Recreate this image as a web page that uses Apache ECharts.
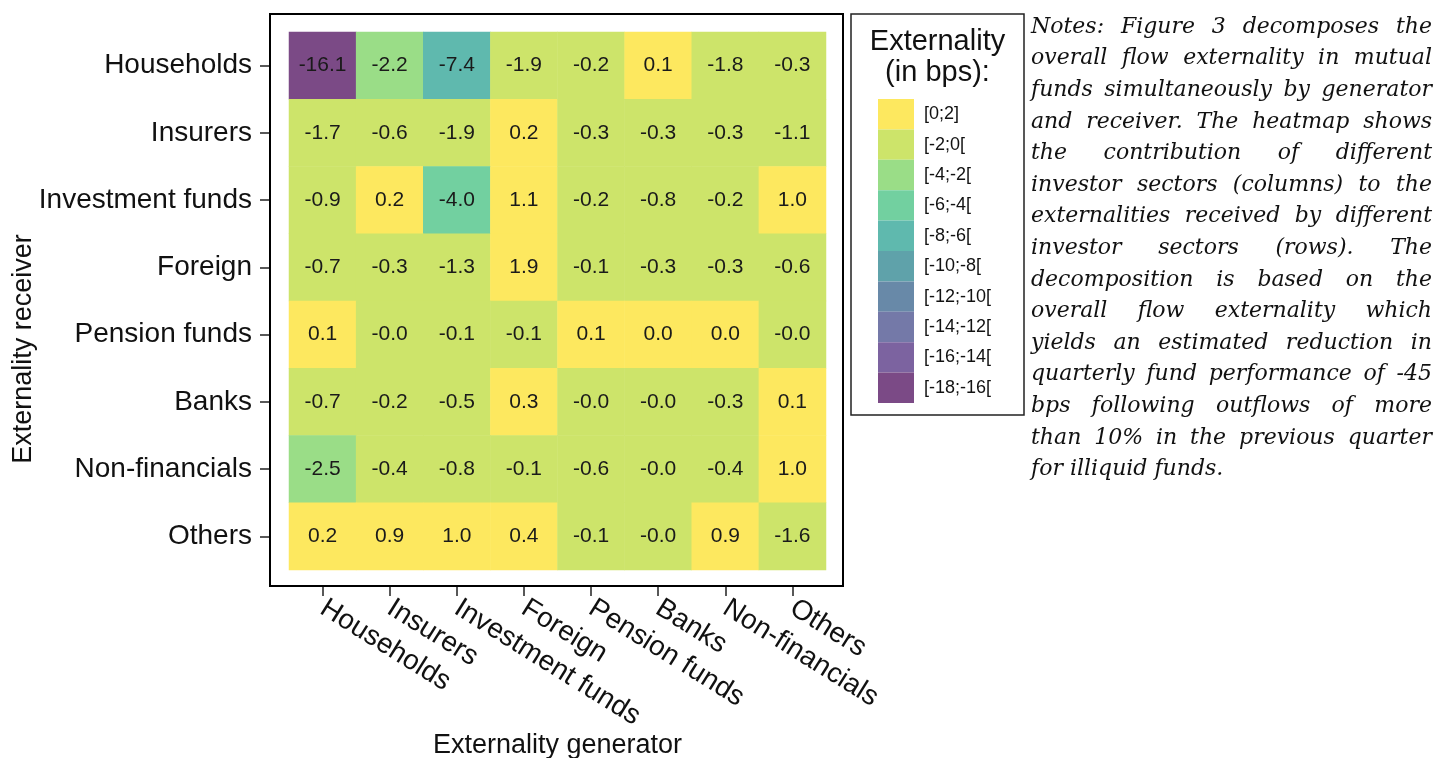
<!DOCTYPE html>
<html>
<head>
<meta charset="utf-8">
<script src="https://cdn.jsdelivr.net/npm/echarts@6/dist/echarts.min.js"></script>
<style>
  html, body { margin: 0; padding: 0; background: #fff; }
  #main { width: 1435px; height: 758px; }
</style>
</head>
<body>
<div id="main"></div>
<script>
// sectors, same order for generator (columns) and receiver (rows)
var sectors = ['Households', 'Insurers', 'Investment funds', 'Foreign', 'Pension funds', 'Banks', 'Non-financials', 'Others'];

// one array per receiver row, values by generator column (bps)
// "-0.0" / "0.0" / "-4.0" cells kept slightly off so the bin colour matches the picture
var households = [-16.1, -2.2, -7.4, -1.9, -0.2, 0.1, -1.8, -0.3];
var insurers = [-1.7, -0.6, -1.9, 0.2, -0.3, -0.3, -0.3, -1.1];
var investmentFunds = [-0.9, 0.2, -4.02, 1.1, -0.2, -0.8, -0.2, 1.0];
var foreign = [-0.7, -0.3, -1.3, 1.9, -0.1, -0.3, -0.3, -0.6];
var pensionFunds = [0.1, -0.04, -0.1, -0.1, 0.1, 0.04, 0.04, -0.04];
var banks = [-0.7, -0.2, -0.5, 0.3, -0.04, -0.04, -0.3, 0.1];
var nonFinancials = [-2.5, -0.4, -0.8, -0.1, -0.6, -0.04, -0.4, 1.0];
var others = [0.2, 0.9, 1.0, 0.4, -0.1, -0.04, 0.9, -1.6];

var rows = [households, insurers, investmentFunds, foreign, pensionFunds, banks, nonFinancials, others];

// legend bins, top to bottom
var binLabels = ['[0;2]', '[-2;0[', '[-4;-2[', '[-6;-4[', '[-8;-6[', '[-10;-8[', '[-12;-10[', '[-14;-12[', '[-16;-14[', '[-18;-16['];
var binLow = [0, -2, -4, -6, -8, -10, -12, -14, -16, -18];
var binHigh = [2, 0, -2, -4, -6, -8, -10, -12, -14, -16];
var binColors = ['#fde85f', '#cde46a', '#9add87', '#72d0a0', '#5fb9ae', '#5fa2aa', '#6889a8', '#7479a8', '#7c63a0', '#7b4a86'];

var notesLines = [
  'Notes: Figure 3 decomposes the',
  'overall flow externality in mutual',
  'funds simultaneously by generator',
  'and receiver. The heatmap shows',
  'the contribution of different',
  'investor sectors (columns) to the',
  'externalities received by different',
  'investor sectors (rows). The',
  'decomposition is based on the',
  'overall flow externality which',
  'yields an estimated reduction in',
  'quarterly fund performance of -45',
  'bps following outflows of more',
  'than 10% in the previous quarter',
  'for illiquid funds.'
];

var sansFont = '"Liberation Sans", Arial, sans-serif';
var noteFamily = '"DejaVu Serif"';
var noteSize = 22;

function buildData() {
  var out = [];
  for (var r = 0; r < rows.length; r++) {
    for (var c = 0; c < rows[r].length; c++) {
      out.push([c, r, rows[r][c]]);
    }
  }
  return out;
}

function buildPieces() {
  var out = [];
  for (var i = 0; i < binLabels.length; i++) {
    var p = { gte: binLow[i], label: binLabels[i], color: binColors[i] };
    if (i == 0) p.lte = binHigh[i]; else p.lt = binHigh[i];
    out.push(p);
  }
  return out;
}

// justified notes: every word placed so the lines fill the column
function notesGraphic() {
  var left = 1031, width = 401, top = 27, lineH = 31.6;
  var ctx = document.createElement('canvas').getContext('2d');
  ctx.font = 'italic ' + noteSize + 'px ' + noteFamily;
  var out = [];
  for (var i = 0; i < notesLines.length; i++) {
    var words = notesLines[i].split(' ');
    var y = top + i * lineH;
    var widths = [], total = 0;
    for (var j = 0; j < words.length; j++) {
      widths.push(ctx.measureText(words[j]).width);
      total += widths[j];
    }
    var gap = ctx.measureText(' ').width;
    if (i < notesLines.length - 1 && words.length > 1) {
      gap = (width - total) / (words.length - 1);
    }
    var x = left;
    for (var k = 0; k < words.length; k++) {
      out.push({
        type: 'text', x: x, y: y,
        style: {
          text: words[k], fill: '#111',
          fontStyle: 'italic', fontSize: noteSize, fontFamily: noteFamily,
          verticalAlign: 'middle'
        }
      });
      x += widths[k] + gap;
    }
  }
  return out;
}

function getOption() {
  var graphics = [
    // plot frame
    { type: 'rect', shape: { x: 270, y: 14, width: 573, height: 572 },
      style: { fill: 'none', stroke: '#000', lineWidth: 2 }, z: 10 },
    // legend frame
    { type: 'rect', shape: { x: 851, y: 14, width: 173, height: 401 },
      style: { fill: 'none', stroke: '#222', lineWidth: 1.5 }, z: 10 },
    { type: 'text', x: 937.5, y: 42,
      style: { text: 'Externality', fill: '#111', fontSize: 29, fontFamily: sansFont, align: 'center', verticalAlign: 'middle' } },
    { type: 'text', x: 937.5, y: 73,
      style: { text: '(in bps):', fill: '#111', fontSize: 29, fontFamily: sansFont, align: 'center', verticalAlign: 'middle' } },
    // y axis title
    { type: 'text', x: 24, y: 349, rotation: Math.PI / 2,
      style: { text: 'Externality receiver', fill: '#111', fontSize: 27, fontFamily: sansFont, align: 'center', verticalAlign: 'middle' } }
  ];

  var option = {
    backgroundColor: '#fff',
    animation: false,
    grid: { left: 289, top: 32, width: 537, height: 538, outerBoundsMode: 'none', containLabel: false },
    xAxis: {
      type: 'category',
      data: sectors,
      offset: 16,
      axisLine: { show: false },
      axisTick: { show: true, alignWithLabel: true, length: 10, lineStyle: { color: '#222', width: 1.5 } },
      axisLabel: { rotate: -32, fontSize: 28, color: '#111', fontFamily: sansFont, margin: 20, interval: 0 },
      splitLine: { show: false },
      name: 'Externality generator',
      nameLocation: 'middle',
      nameGap: 146,
      nameMoveOverlap: false,
      nameTextStyle: { fontSize: 27, color: '#111', fontFamily: sansFont }
    },
    yAxis: {
      type: 'category',
      data: sectors,
      inverse: true,
      offset: 19,
      axisLine: { show: false },
      axisTick: { show: true, alignWithLabel: true, length: 10, lineStyle: { color: '#222', width: 1.5 } },
      axisLabel: { fontSize: 28, color: '#111', fontFamily: sansFont, margin: 18, interval: 0 },
      splitLine: { show: false }
    },
    visualMap: {
      type: 'piecewise',
      dimension: 2,
      pieces: buildPieces(),
      orient: 'vertical',
      align: 'left',
      left: 873,
      top: 94,
      padding: 5,
      itemWidth: 36,
      itemHeight: 30.4,
      itemGap: 0,
      itemSymbol: 'rect',
      textGap: 10,
      hoverLink: false,
      selectedMode: false,
      textStyle: { fontSize: 18, color: '#111', fontFamily: sansFont }
    },
    series: [{
      type: 'heatmap',
      data: buildData(),
      label: {
        show: true,
        fontSize: 21,
        color: '#1a1a1a',
        fontFamily: sansFont,
        formatter: function(p) {
          return p.value[2].toFixed(1);
        }
      },
      itemStyle: { borderWidth: 0 },
      emphasis: { disabled: true }
    }],
    graphic: graphics.concat(notesGraphic())
  };
  return option;
}

var chart = echarts.init(document.getElementById('main'), null, { renderer: 'canvas' });
chart.setOption(getOption());
</script>
</body>
</html>
